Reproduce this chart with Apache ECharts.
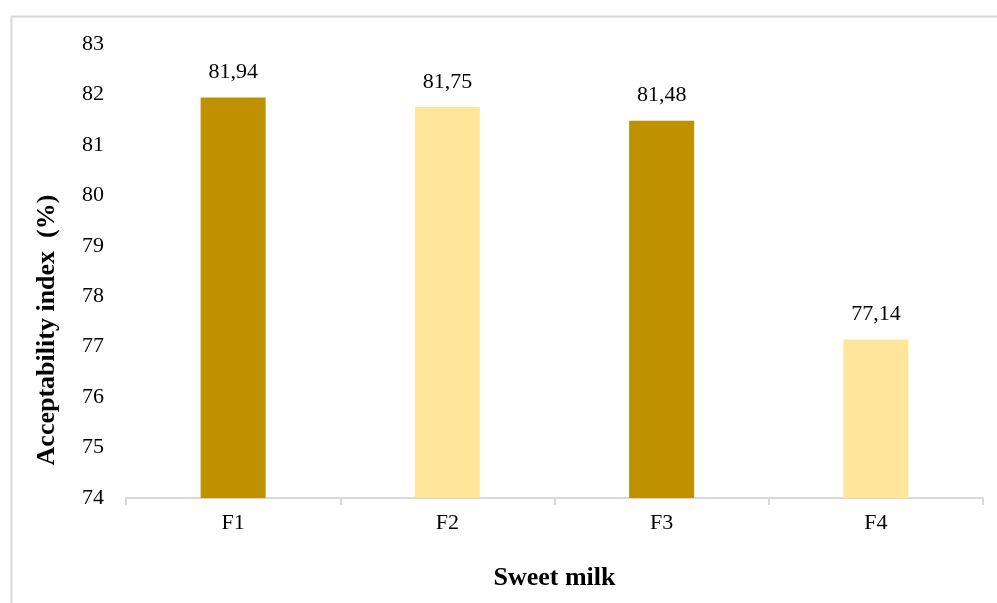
<!DOCTYPE html>
<html>
<head>
<meta charset="utf-8">
<script src="https://cdn.jsdelivr.net/npm/echarts@6/dist/echarts.min.js"></script>
<style>
  html, body { margin: 0; padding: 0; background: #fff; }
  #chart { width: 997px; height: 603px; }
</style>
</head>
<body>
<div id="chart"></div>
<script>
// Acceptability index per sweet milk formulation
const categories = ['F1', 'F2', 'F3', 'F4'];
const acceptability = [81.94, 81.75, 81.48, 77.14];
const barColors = ['#BF9000', '#FFE699', '#BF9000', '#FFE699'];
const yTicks = { min: 74, max: 83, interval: 1 };

const serif = '"Liberation Serif", "Times New Roman", serif';

const chart = echarts.init(document.getElementById('chart'), null, { renderer: 'canvas' });

chart.setOption({
  animation: false,
  backgroundColor: '#ffffff',
  graphic: [{
    type: 'rect',
    left: 9, top: 14,
    shape: { x: 0, y: 0, width: 1000, height: 600 },
    style: { fill: 'none', stroke: '#d9d9d9', lineWidth: 2 },
    silent: true
  }],
  grid: { left: 126, right: 14, top: 44, bottom: 105, containLabel: false },
  xAxis: {
    type: 'category',
    data: categories,
    name: 'Sweet milk',
    nameLocation: 'middle',
    nameGap: 67,
    nameTextStyle: { fontFamily: serif, fontWeight: 'bold', fontSize: 26, color: '#000' },
    axisLine: { lineStyle: { color: '#d9d9d9', width: 2 } },
    axisTick: { show: true, length: 7, lineStyle: { color: '#d9d9d9', width: 2 } },
    axisLabel: { fontFamily: serif, fontSize: 22, color: '#000', margin: 14 },
    splitLine: { show: false }
  },
  yAxis: {
    type: 'value',
    min: yTicks.min,
    max: yTicks.max,
    interval: yTicks.interval,
    name: 'Acceptability index  (%)',
    nameLocation: 'middle',
    nameGap: 66,
    // extra trailing padding pushes the rotated title toward the bottom of the axis
    nameTextStyle: { fontFamily: serif, fontWeight: 'bold', fontSize: 26, color: '#000', padding: [0, 118, 0, 0] },
    axisLine: { show: false },
    axisTick: { show: false },
    axisLabel: { fontFamily: serif, fontSize: 22, color: '#000', margin: 22 },
    splitLine: { show: false }
  },
  series: [{
    type: 'bar',
    data: acceptability.map((v, i) => ({ value: v, itemStyle: { color: barColors[i] } })),
    barWidth: 65,
    label: {
      show: true,
      position: 'top',
      distance: 14,
      fontFamily: serif,
      fontSize: 22,
      color: '#000',
      formatter: p => p.value.toFixed(2).replace('.', ',')
    }
  }]
});
</script>
</body>
</html>
